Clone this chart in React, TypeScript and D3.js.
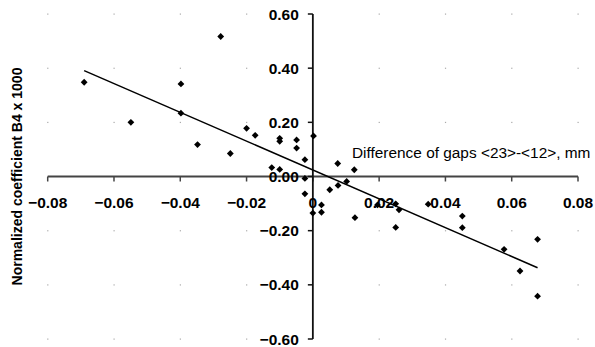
import React from "react";
import * as d3 from "d3";

const xValues = [
  -0.069, -0.0549, -0.0398, -0.0398, -0.0348, -0.0278, -0.0249, -0.02, -0.0174, -0.0124,
  -0.01, -0.01, -0.01, -0.0049, -0.0049, -0.0024, -0.0024, -0.0024, 0.0002, 0.0,
  0.0026, 0.0026, 0.0051, 0.0075, 0.0076, 0.0102, 0.0125, 0.0127, 0.0195, 0.025,
  0.026, 0.025, 0.0348, 0.0451, 0.0451, 0.0577, 0.0625, 0.0678, 0.0678,
];
const yValues = [
  0.348, 0.2, 0.342, 0.234, 0.118, 0.517, 0.085, 0.178, 0.152, 0.033,
  0.141, 0.13, 0.026, 0.135, 0.105, 0.062, -0.007, -0.064, 0.15, -0.135,
  -0.105, -0.132, -0.049, 0.048, -0.033, -0.018, 0.025, -0.152, -0.105, -0.101,
  -0.123, -0.188, -0.102, -0.146, -0.189, -0.269, -0.349, -0.232, -0.442,
];
const xTicks = [-0.08, -0.06, -0.04, -0.02, 0, 0.02, 0.04, 0.06, 0.08];
const yTicks = [-0.6, -0.4, -0.2, 0, 0.2, 0.4, 0.6];
const trendSlope = -5.32;
const trendIntercept = 0.024;
const xTitle = "Difference of gaps <23>-<12>, mm";
const yTitle = "Normalized coefficient B4 x 1000";

const W = 595;
const H = 347;

export default function App() {
  const x = d3.scaleLinear().domain([-0.08, 0.08]).range([47.7, 578]);
  const y = d3.scaleLinear().domain([-0.6, 0.6]).range([339, 14]);
  const x0 = x(0);
  const y0 = y(0);
  const fmt = (v: number) => (v === 0 ? "0" : d3.format(".2f")(v));
  const fmtY = (v: number) => d3.format(".2f")(v);
  const xMin = d3.min(xValues) as number;
  const xMax = d3.max(xValues) as number;
  const line = d3.line<number>().x((d) => x(d)).y((d) => y(trendSlope * d + trendIntercept));
  const r = 3.4;
  const font = "'Liberation Sans', Arial, sans-serif";

  const gridDots: [number, number][] = [];
  xTicks.filter((t) => t !== 0).forEach((tx) =>
    yTicks.filter((t) => t !== 0).forEach((ty) => gridDots.push([tx, ty]))
  );

  return (
    <svg width={W} height={H} style={{ position: "absolute", left: 0, top: 0, background: "#fff" }}>
      <rect x={0} y={0} width={W} height={H} fill="#fff" />
      {gridDots.map(([tx, ty], i) => (
        <rect key={i} x={x(tx) - 0.5} y={y(ty) - 0.5} width={1.2} height={1.2} fill="#aaa" />
      ))}
      {/* x axis */}
      <line x1={x(-0.08)} x2={x(0.08)} y1={y0} y2={y0} stroke="#444" strokeWidth={1.8} />
      {xTicks.map((t) => (
        <line key={"xt" + t} x1={x(t)} x2={x(t)} y1={y0} y2={y0 + 5} stroke="#444" strokeWidth={1.5} />
      ))}
      {/* y axis */}
      <line x1={x0} x2={x0} y1={y(0.6)} y2={y(-0.6)} stroke="#111" strokeWidth={1.8} />
      {yTicks.map((t) => (
        <line key={"yt" + t} x1={x0 - 5} x2={x0} y1={y(t)} y2={y(t)} stroke="#111" strokeWidth={1.5} />
      ))}
      {/* trend line */}
      <path d={line([xMin, xMax]) || ""} fill="none" stroke="#000" strokeWidth={1.5} />
      {/* points */}
      {xValues.map((xv, i) => {
        const cx = x(xv);
        const cy = y(yValues[i]);
        return (
          <path
            key={"p" + i}
            d={`M${cx},${cy - r}L${cx + r},${cy}L${cx},${cy + r}L${cx - r},${cy}Z`}
            fill="#000"
          />
        );
      })}
      {/* tick labels */}
      {xTicks.map((t) => (
        <text
          key={"xl" + t}
          x={x(t)}
          y={y0 + 31}
          textAnchor="middle"
          fontFamily={font}
          fontWeight="bold"
          fontSize={15.5}
          fill="#000"
        >
          {fmt(t)}
        </text>
      ))}
      {yTicks.map((t) => (
        <text
          key={"yl" + t}
          x={x0 - 14}
          y={y(t) + 5.5}
          textAnchor="end"
          fontFamily={font}
          fontWeight="bold"
          fontSize={15.5}
          fill="#000"
        >
          {fmtY(t)}
        </text>
      ))}
      <text x={352} y={158} fontFamily={font} fontSize={15.4} fill="#000">
        {xTitle}
      </text>
      <text
        transform={`translate(22,${y0}) rotate(-90)`}
        textAnchor="middle"
        fontFamily={font}
        fontWeight="bold"
        fontSize={14}
        fill="#000"
      >
        {yTitle}
      </text>
    </svg>
  );
}
